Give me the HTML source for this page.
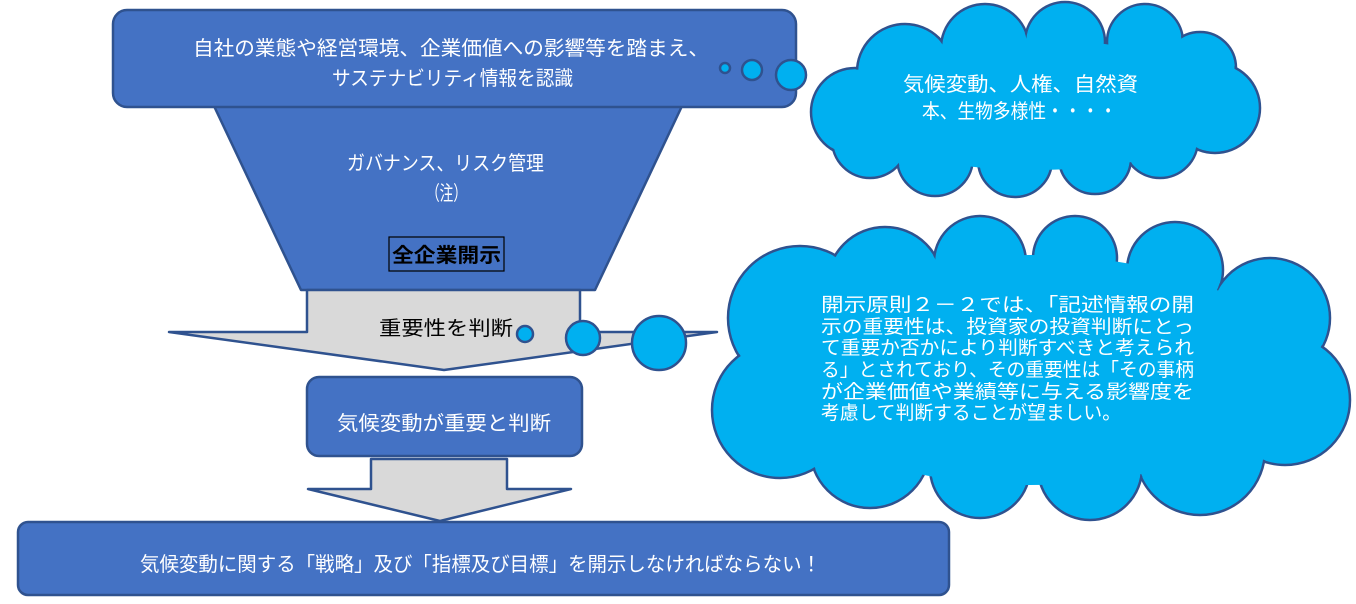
<!DOCTYPE html>
<html><head><meta charset="utf-8"><style>
html,body{margin:0;padding:0;background:#fff;}
svg{display:block;}
text{font-family:"Liberation Sans","Noto Sans CJK JP",sans-serif;}
</style></head><body>
<svg width="1356" height="604" viewBox="0 0 1356 604" xmlns="http://www.w3.org/2000/svg">
<g stroke="#2F528F" stroke-width="2.5" stroke-linejoin="round">
<polygon points="214,106 682,106 595,290 301,290" fill="#4472C4"/>
<rect x="113" y="10" width="683" height="97" rx="14" fill="#4472C4"/>
<polygon points="307,290 580,290 580,332 717,332 444,370 169,332 307,332" fill="#D9D9D9"/>
<rect x="307" y="377" width="275" height="79" rx="12" fill="#4472C4"/>
<polygon points="371,459 507,459 507,489 571,489 440,521 308,489 371,489" fill="#D9D9D9"/>
<rect x="18" y="522" width="931" height="73" rx="10" fill="#4472C4"/>
<g fill="#00B0F0">
<circle cx="725" cy="68" r="5"/>
<circle cx="752" cy="70" r="10"/>
<circle cx="791" cy="75" r="15"/>
<circle cx="525" cy="334" r="8"/>
<circle cx="583" cy="338" r="17"/>
<circle cx="659" cy="343" r="27"/>
</g>
</g>
<!-- cloud 1 -->
<g fill="#00B0F0" stroke="#2F528F" stroke-width="2.5">
<circle cx="855" cy="112" r="44"/>
<circle cx="905" cy="72" r="48"/>
<circle cx="985" cy="48" r="44"/>
<circle cx="1065" cy="42" r="40"/>
<circle cx="1145" cy="42" r="38"/>
<circle cx="1200" cy="68" r="36"/>
<circle cx="1215" cy="108" r="45"/>
<circle cx="1160" cy="140" r="38"/>
<circle cx="1095" cy="158" r="36"/>
<circle cx="1015" cy="160" r="37"/>
<circle cx="935" cy="158" r="38"/>
<circle cx="870" cy="140" r="38"/>
</g>
<g fill="#00B0F0">
<circle cx="855" cy="112" r="42.5"/>
<circle cx="905" cy="72" r="46.5"/>
<circle cx="985" cy="48" r="42.5"/>
<circle cx="1065" cy="42" r="38.5"/>
<circle cx="1145" cy="42" r="36.5"/>
<circle cx="1200" cy="68" r="34.5"/>
<circle cx="1215" cy="108" r="43.5"/>
<circle cx="1160" cy="140" r="36.5"/>
<circle cx="1095" cy="158" r="34.5"/>
<circle cx="1015" cy="160" r="35.5"/>
<circle cx="935" cy="158" r="36.5"/>
<circle cx="870" cy="140" r="36.5"/>
<ellipse cx="1035" cy="105" rx="200" ry="65"/>
</g>
<!-- cloud 2 -->
<g fill="#00B0F0" stroke="#2F528F" stroke-width="2.5">
<circle cx="800" cy="318" r="72"/>
<circle cx="885" cy="285" r="58"/>
<circle cx="980" cy="262" r="46"/>
<circle cx="1075" cy="258" r="42"/>
<circle cx="1175" cy="270" r="48"/>
<circle cx="1270" cy="318" r="60"/>
<circle cx="1285" cy="400" r="65"/>
<circle cx="1200" cy="450" r="65"/>
<circle cx="1090" cy="468" r="52"/>
<circle cx="980" cy="468" r="50"/>
<circle cx="870" cy="448" r="60"/>
<circle cx="780" cy="410" r="68"/>
</g>
<g fill="#00B0F0">
<circle cx="800" cy="318" r="70.5"/>
<circle cx="885" cy="285" r="56.5"/>
<circle cx="980" cy="262" r="44.5"/>
<circle cx="1075" cy="258" r="40.5"/>
<circle cx="1175" cy="270" r="46.5"/>
<circle cx="1270" cy="318" r="58.5"/>
<circle cx="1285" cy="400" r="63.5"/>
<circle cx="1200" cy="450" r="63.5"/>
<circle cx="1090" cy="468" r="50.5"/>
<circle cx="980" cy="468" r="48.5"/>
<circle cx="870" cy="448" r="58.5"/>
<circle cx="780" cy="410" r="66.5"/>
<ellipse cx="1030" cy="370" rx="260" ry="115"/>
</g>
<g fill="#fff" font-size="20">
<text x="193" y="55" textLength="516" lengthAdjust="spacingAndGlyphs">自社の業態や経営環境、企業価値への影響等を踏まえ、</text>
<text x="332" y="85" textLength="241" lengthAdjust="spacingAndGlyphs">サステナビリティ情報を認識</text>
<text x="347" y="170" textLength="197" lengthAdjust="spacingAndGlyphs">ガバナンス、リスク管理</text>
<text x="426" y="200" textLength="41" lengthAdjust="spacingAndGlyphs">（注）</text>
<text x="337" y="430" textLength="214" lengthAdjust="spacingAndGlyphs">気候変動が重要と判断</text>
<text x="140" y="571" textLength="681" lengthAdjust="spacingAndGlyphs">気候変動に関する「戦略」及び「指標及び目標」を開示しなければならない！</text>
<text x="903" y="91" textLength="235" lengthAdjust="spacingAndGlyphs">気候変動、人権、自然資</text>
<text x="922" y="118" textLength="195" lengthAdjust="spacingAndGlyphs">本、生物多様性・・・・</text>
<g font-size="19">
<text x="821" y="311" textLength="373" lengthAdjust="spacingAndGlyphs">開示原則２－２では、「記述情報の開</text>
<text x="821" y="333" textLength="373" lengthAdjust="spacingAndGlyphs">示の重要性は、投資家の投資判断にとっ</text>
<text x="821" y="354" textLength="373" lengthAdjust="spacingAndGlyphs">て重要か否かにより判断すべきと考えられ</text>
<text x="821" y="376" textLength="373" lengthAdjust="spacingAndGlyphs">る」とされており、その重要性は「その事柄</text>
<text x="821" y="398" textLength="373" lengthAdjust="spacingAndGlyphs">が企業価値や業績等に与える影響度を</text>
<text x="821" y="419" textLength="300" lengthAdjust="spacingAndGlyphs">考慮して判断することが望ましい。</text>
</g>
</g>
<text x="379" y="335" font-size="20" fill="#000" textLength="134" lengthAdjust="spacingAndGlyphs">重要性を判断</text>
<rect x="389" y="237" width="115" height="34" fill="none" stroke="#000" stroke-width="1.2"/>
<text x="392" y="262" font-size="20" font-weight="bold" fill="#000" textLength="109" lengthAdjust="spacingAndGlyphs">全企業開示</text>
</svg>
</body></html>
